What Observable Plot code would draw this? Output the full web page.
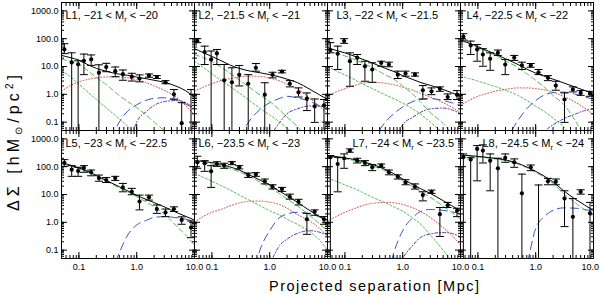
<!DOCTYPE html>
<html><head><meta charset="utf-8">
<script src="https://cdn.jsdelivr.net/npm/d3@7"></script>
<script src="https://cdn.jsdelivr.net/npm/@observablehq/plot@0.6"></script>
<style>
body{margin:0;background:#fff;}
#chart{width:600px;height:299px;}
</style></head><body><div id="chart"></div>
<script>
// ---- data ----
const PANEL_TITLES = ["L1, −21 < M_r < −20", "L2, −21.5 < M_r < −21", "L3, −22 < M_r < −21.5", "L4, −22.5 < M_r < −22",
  "L5, −23 < M_r < −22.5", "L6, −23.5 < M_r < −23", "L7, −24 < M_r < −23.5", "L8, −24.5 < M_r < −24"];
const X_TICKS = [0.1, 1, 10];
const Y_TICKS = [0.1, 1, 10, 100, 1000];
const X_LABEL = "Projected separation [Mpc]";

// projected radii of the measurements (Mpc)
const R = [0.056, 0.075, 0.097, 0.122, 0.163, 0.222, 0.297, 0.425, 0.577, 0.822, 1.12, 1.63, 2.23, 3.15, 4.40, 6.0, 8.7];
// measured ΔΣ, lower and upper error ends (0 = below the axis)
const VAL = [
  [41, 14, 12, 16, 18, 6, 9.5, 6.8, 5.3, 4.3, 3.7, 4.7, 4.2, 2.7, 1.0, 0.092, null],
  [82, 33, 18, 29.5, 3.2, 2.7, 5.0, 2.4, 9.0, 0.97, 5.0, 6.6, 2.4, 1.18, 0.7, 0.37, 0.4],
  [39, 28.7, 82, 15.5, 20.6, 10.2, 7.8, 13.6, 11.8, 5.1, 5.6, 5.1, 1.4, 1.28, 1.57, 0.8, 0.97],
  [118, 57, 41, 27, 19, 31, 11.8, 20.6, 10.9, 10.9, 6.2, 3.9, 2.06, 0.65, 1.48, 1.12, 1.06],
  [136, 78, 70, 90, 63, 39, 33, 39, 18, 12.5, 5.6, 7.9, 3.0, 2.26, 3.0, 1.22, 0.65],
  [144, 133, 68, 125, 109, 136, 95, 50, 53, 30, 19, 15.7, 8.3, 5.4, 1.29, 2.4, 1.29],
  [218, 125, 201, 378, 165, 136, 95, 109, 63, 43.6, 27, 19, 9.5, 12.5, 1.96, 4.1, 2.6],
  [218, 180, 435, 378, 165, 87.5, 206, 144, 11, 95, null, 30, 29, 7.2, 1.57, 12.5, 2.1]
];
const LO = [
  [29, 0, 0, 5.1, 11, 0, 6.5, 4.3, 3.2, 3.0, 2.8, 4.1, 3.7, 2.4, 0.67, 0, 0],
  [72, 11.8, 0, 11.8, 0, 0, 2.0, 0, 6.8, 0, 3.9, 5.9, 1.85, 0.8, 0.26, 0.098, 0],
  [31, 7.8, 68, 1.95, 11.8, 2.95, 2.7, 10.2, 9.8, 3.7, 4.5, 4.5, 0.68, 0.97, 1.28, 0.65, 0.65],
  [89, 27, 15.5, 10.2, 7.3, 25, 5.1, 16.5, 7.8, 9.4, 5.1, 3.1, 1.4, 0.098, 1.22, 0.92, 0.85],
  [103, 45, 45, 63, 47, 30, 27, 32, 12.5, 9.8, 2.8, 6.3, 2.1, 1.6, 2.45, 0.85, 0.28],
  [87.5, 68, 18, 103, 87.5, 118, 83, 41, 45, 24, 15.7, 12.9, 6.8, 4.2, 0.37, 1.8, 0.85],
  [0, 12.5, 87.5, 331, 136, 109, 72, 95, 51, 36, 22.4, 15.7, 5.9, 11, 0.31, 3.4, 1.6],
  [0, 0, 31, 136, 13.6, 0, 144, 95, 0, 72, 0, 22.4, 22.4, 0.7, 0, 10.3, 0]
];
const HI = [
  [66, 31, 16, 28, 26, 11.5, 13, 9.6, 7.5, 5.7, 5.0, 5.4, 4.7, 3.1, 1.48, 0.5, 1.48],
  [100, 54, 36, 41, 11.8, 9.0, 10.9, 5.1, 12.8, 2.6, 6.2, 7.3, 3.1, 1.7, 1.12, 0.68, 0.65],
  [72, 54, 100, 31, 27, 15.5, 13.6, 15.5, 14.3, 6.8, 6.8, 5.9, 2.06, 1.7, 1.85, 1.03, 1.36],
  [151, 82, 62, 43.6, 31, 39, 17.9, 25, 14.3, 12.8, 7.8, 4.7, 2.95, 1.12, 1.85, 1.36, 1.28],
  [179, 109, 95, 109, 76, 50, 41, 45, 25, 16.6, 9.5, 9.5, 4.2, 3.0, 3.6, 1.57, 1.12],
  [237, 165, 109, 151, 133, 151, 109, 59, 61, 36, 22.4, 18, 10.3, 6.7, 2.1, 2.8, 1.6],
  [250, 218, 287, 435, 201, 165, 118, 125, 76, 51, 34, 24, 12.5, 14.4, 3.4, 5.2, 3.2],
  [287, 210, 573, 607, 287, 201, 287, 190, 54, 115, 22, 38, 36, 13.6, 7.2, 14.8, 5.2]
];

// model curves, sampled at these radii
const XM = [0.05, 0.07, 0.1, 0.15, 0.2, 0.3, 0.5, 0.7, 1, 1.5, 2, 3, 5, 7, 10];
const TOTAL = [
  [25, 21, 17, 11, 8.6, 6.7, 5.3, 4.8, 4.15, 3.6, 3.2, 2.7, 1.9, 1.35, 0.78],
  [44, 32, 23, 15.5, 11.6, 8.5, 6.6, 5.9, 5.1, 4.2, 3.5, 2.65, 1.5, 1.0, 0.66],
  [47, 38, 31, 23, 18.4, 13.3, 8.6, 6.6, 4.7, 3.4, 2.7, 2.1, 1.5, 1.15, 0.82],
  [90, 70, 52, 36, 28, 19, 11.7, 8.1, 5.8, 4.3, 3.5, 2.6, 1.77, 1.38, 1.1],
  [140, 115, 90, 65, 48, 32, 19, 13.5, 9.3, 6.5, 5.1, 3.6, 2.2, 1.65, 1.2],
  [165, 155, 140, 120, 100, 75, 45, 32, 22, 13, 9, 5.3, 2.6, 1.7, 1.2],
  [250, 230, 205, 180, 155, 120, 80, 56, 36, 23, 16.5, 11, 6, 4, 2.5],
  [260, 250, 235, 215, 200, 175, 130, 98, 68, 42, 28, 14, 6.5, 4.2, 2.6]
];
const CENTRAL = [
  [18, 15.5, 12, 6.5, 4, 2.2, 0.9, 0.55, 0.33, 0.17, 0.1, 0.05, 0.02, null, null],
  [27, 21, 15, 9, 6, 3.2, 1.5, 0.9, 0.55, 0.27, 0.15, 0.07, 0.02, null, null],
  [36, 30, 24, 17.5, 13.5, 9, 5, 3.5, 2.0, 1.0, 0.55, 0.22, 0.09, 0.04, 0.02],
  [85, 66, 48, 33, 25, 16, 9, 5.5, 3.2, 1.6, 0.9, 0.45, 0.1, 0.03, null],
  [130, 108, 85, 62, 46, 30, 17.5, 12.5, 8.3, 5.2, 3.6, 2.0, 0.7, 0.35, 0.15],
  [150, 140, 125, 105, 88, 65, 39, 27, 18, 10.5, 7, 3.9, 1.7, 0.95, 0.48],
  [230, 210, 190, 165, 140, 108, 70, 48, 30, 19, 13, 8, 3.8, 2.3, 1.3],
  [250, 240, 225, 205, 190, 165, 122, 92, 63, 38, 25, 11, 4.8, 2.8, 1.6]
];
const STELLAR = [
  [7, 4.4, 2.3, 1.1, 0.66, 0.32, 0.13, 0.07, 0.036, null, null, null, null, null, null],
  [15.5, 9.5, 5.5, 3.0, 2.0, 1.1, 0.5, 0.3, 0.18, 0.1, 0.06, 0.03, null, null, null],
  [10, 7, 5, 3.3, 2.4, 1.6, 0.95, 0.7, 0.48, 0.3, 0.2, 0.1, 0.04, null, null],
  [4.5, 3.7, 3.0, 2.3, 1.9, 1.4, 0.9, 0.6, 0.38, 0.22, 0.14, 0.07, 0.02, null, null],
  null,
  [58, 42, 30, 20, 15, 9.5, 5.5, 3.8, 2.6, 1.8, 1.3, 0.85, 0.45, 0.25, 0.1],
  [38, 30, 22, 16, 12, 8, 5, 3.6, 2.5, 1.4, 0.9, 0.35, 0.1, 0.04, null],
  null
];
const SATELLITE = [
  [1.3, 2.0, 2.8, 3.5, 3.9, 4.2, 4.2, 3.9, 3.3, 2.6, 2.0, 1.4, 0.75, 0.4, 0.18],
  [1.3, 1.8, 2.4, 3.2, 3.6, 4.2, 4.5, 4.4, 3.8, 3.0, 2.3, 1.6, 0.7, 0.4, 0.2],
  [0.85, 1.2, 1.6, 2.1, 2.5, 2.7, 2.5, 2.2, 1.8, 1.4, 1.1, 0.8, 0.5, 0.35, 0.22],
  [0.4, 0.6, 0.85, 1.1, 1.3, 1.5, 1.7, 1.7, 1.6, 1.4, 1.2, 0.85, 0.5, 0.32, 0.19],
  null,
  [1.0, 1.6, 2.3, 3.0, 3.8, 5.0, 5.8, 5.8, 5.3, 4.3, 3.2, 1.9, 1.1, 0.65, 0.32],
  [1.1, 1.6, 2.3, 3.2, 4.0, 4.8, 5.2, 5.0, 4.4, 3.3, 2.5, 1.5, 0.65, 0.35, 0.15],
  null
];
const TWOHALO = [
  [null, null, null, null, null, 0.01, 0.1, 0.25, 0.42, 0.62, 0.72, 0.75, 0.6, 0.45, 0.3],
  [null, null, null, null, null, 0.03, 0.15, 0.3, 0.5, 0.72, 0.85, 0.75, 0.55, 0.4, 0.28],
  [null, null, null, null, null, 0.02, 0.1, 0.2, 0.35, 0.55, 0.65, 0.7, 0.6, 0.5, 0.4],
  [null, null, null, null, null, 0.02, 0.12, 0.3, 0.6, 1.0, 1.15, 1.2, 1.0, 0.82, 0.65],
  [null, null, null, null, null, 0.005, 0.08, 0.35, 0.8, 1.2, 1.5, 1.6, 1.45, 1.3, 1.05],
  [null, null, null, null, null, null, 0.01, 0.12, 0.5, 1.5, 2.0, 2.3, 2.0, 1.6, 1.1],
  [null, null, null, null, null, null, 0.005, 0.08, 0.5, 1.5, 2.4, 2.9, 2.7, 2.4, 2.0],
  [null, null, null, null, null, null, 0.005, 0.03, 0.6, 1.8, 2.7, 3.3, 3.2, 2.9, 2.5]
];
const TWOHALO_SAT = [
  [null, null, null, null, null, null, null, 0.01, 0.1, 0.25, 0.4, 0.55, 0.6, 0.5, 0.3],
  [null, null, null, null, null, null, null, 0.01, 0.03, 0.1, 0.2, 0.3, 0.38, 0.38, 0.33],
  [null, null, null, null, null, null, null, 0.01, 0.08, 0.15, 0.22, 0.3, 0.32, 0.28, 0.2],
  [null, null, null, null, null, null, null, null, 0.01, 0.05, 0.08, 0.13, 0.2, 0.26, 0.3],
  null,
  [null, null, null, null, null, null, null, null, 0.03, 0.15, 0.25, 0.4, 0.5, 0.45, 0.35],
  [null, null, null, null, null, null, null, 0.01, 0.05, 0.15, 0.28, 0.38, 0.43, 0.4, 0.3],
  null
];

// ---- layout / style constants ----
const LABEL_DX = [4, 4, 9, 6, 4, 4, 25, 22];
const FLOOR = 1e-3; // error bar ends that fall below the axis
const COMPONENTS = [
  {arr: STELLAR, stroke: "#4fc04f", dash: "2,2"},
  {arr: SATELLITE, stroke: "#d04848", dash: "1,2"},
  {arr: TWOHALO, stroke: "#3355cc", dash: "8,5"},
  {arr: TWOHALO_SAT, stroke: "#5533aa", dash: "3,2,1,2"},
  {arr: CENTRAL, stroke: "#4fc04f", dash: "5,3"},
  {arr: TOTAL, stroke: "#000000", dash: null}
];

// ---- tidy tables ----
const points = [];
VAL.forEach((vals, p) => R.forEach((r, i) => {
  points.push({p, col: p % 4, row: Math.floor(p / 4), r,
    val: vals[i], lo: LO[p][i] > 0 ? LO[p][i] : FLOOR, hi: HI[p][i], loShown: LO[p][i] > 0});
}));
function curveRows(arr) {
  const out = [];
  arr.forEach((ys, p) => {
    if (!ys) return;
    ys.forEach((y, i) => { if (y != null) out.push({p, col: p % 4, row: Math.floor(p / 4), x: XM[i], y}); });
  });
  return out;
}
const titles = PANEL_TITLES.map((t, p) => ({p, col: p % 4, row: Math.floor(p / 4), t}));

const capSymbol = {draw(ctx, size) { const w = Math.sqrt(size / Math.PI); ctx.moveTo(-w, 0); ctx.lineTo(w, 0); }};
const fmt = d3.format(".1f");
const blank = () => "";

const marks = [];
for (const c of COMPONENTS) {
  marks.push(Plot.line(curveRows(c.arr), {x: "x", y: "y", z: "p", fx: "col", fy: "row",
    stroke: c.stroke, strokeWidth: 1, strokeDasharray: c.dash, curve: "monotone-x", clip: true}));
}
marks.push(
  Plot.ruleX(points.filter(d => d.hi != null), {x: "r", y1: "lo", y2: "hi", fx: "col", fy: "row", stroke: "black", strokeWidth: 1, clip: true}),
  Plot.dot(points.filter(d => d.hi != null), {x: "r", y: "hi", fx: "col", fy: "row", symbol: capSymbol, r: 4, stroke: "black", fill: "none", strokeWidth: 1, clip: true}),
  Plot.dot(points.filter(d => d.loShown), {x: "r", y: "lo", fx: "col", fy: "row", symbol: capSymbol, r: 4, stroke: "black", fill: "none", strokeWidth: 1, clip: true}),
  Plot.dot(points.filter(d => d.val != null), {x: "r", y: "val", fx: "col", fy: "row", r: 2.1, fill: "black", stroke: "none", clip: true})
);
// axes: inward ticks on all four sides of each panel
for (const anchor of ["bottom", "top"]) {
  marks.push(Plot.axisX({anchor, ticks: 40, tickSize: -3, tickFormat: blank, facetAnchor: null, label: null}));
  marks.push(Plot.axisX({anchor, ticks: X_TICKS, tickSize: -6, tickFormat: blank, facetAnchor: null, label: null}));
}
for (const anchor of ["left", "right"]) {
  marks.push(Plot.axisY({anchor, ticks: 60, tickSize: -3, tickFormat: blank, facetAnchor: null, label: null}));
  marks.push(Plot.axisY({anchor, ticks: Y_TICKS, tickSize: -6, tickFormat: blank, facetAnchor: null, label: null}));
}
marks.push(
  Plot.axisX({anchor: "bottom", ticks: X_TICKS, tickSize: 0, tickPadding: 5, tickFormat: fmt, facetAnchor: "bottom", label: null, fontSize: 9}),
  Plot.axisY({anchor: "left", ticks: Y_TICKS, tickSize: 0, tickPadding: 3, tickFormat: fmt, facetAnchor: "left", label: null, fontSize: 9}),
  Plot.frame({stroke: "black", strokeWidth: 1})
);
titles.forEach((d, p) => {
  marks.push(Plot.text([d], {fx: "col", fy: "row", text: "t", frameAnchor: "top-left", dx: LABEL_DX[p], dy: 13,
    textAnchor: "start", lineAnchor: "middle", fontSize: 11, ariaLabel: "panel-label"}));
});

const svg = Plot.plot({
  width: 600, height: 299,
  marginLeft: 61, marginRight: 7, marginTop: 2, marginBottom: 41,
  style: {fontFamily: "'Liberation Sans', Arial, sans-serif", fontSize: "9px", color: "black", background: "white"},
  x: {type: "log", domain: [0.05, 10]},
  y: {type: "log", domain: [0.05, 2000]},
  fx: {domain: [0, 1, 2, 3], padding: 0, axis: null},
  fy: {domain: [0, 1], padding: 0, axis: null},
  marks
});

const s = d3.select(svg);
// subscript r in panel titles
s.selectAll("text").each(function () {
  const t = this.textContent;
  if (!t.includes("M_r")) return;
  const [a, b] = t.split("M_r");
  const sel = d3.select(this);
  sel.text(null);
  sel.append("tspan").text(a + "M");
  sel.append("tspan").attr("dy", 2.5).attr("font-size", 7.5).text("r");
  sel.append("tspan").attr("dy", -2.5).text(b);
});
// axis titles
s.append("text").attr("x", 374).attr("y", 291).attr("text-anchor", "middle")
  .attr("font-size", 14.5).attr("fill", "black").attr("textLength", 210).attr("lengthAdjust", "spacing")
  .text(X_LABEL);
const yl = s.append("text").attr("transform", "translate(19,143) rotate(-90)").attr("text-anchor", "middle")
  .attr("font-size", 16).attr("fill", "black").attr("textLength", 136).attr("lengthAdjust", "spacing");
yl.append("tspan").text("ΔΣ [hM");
yl.append("tspan").attr("font-size", 10).attr("dy", 3).text("⊙");
yl.append("tspan").attr("dy", -3).text("/pc");
yl.append("tspan").attr("font-size", 10).attr("dy", -6).text("2");
yl.append("tspan").attr("dy", 6).text("]");

document.getElementById("chart").appendChild(svg);

// keep tick labels inside the picture
const box = svg.getBoundingClientRect();
s.selectAll("text").each(function () {
  const b = this.getBoundingClientRect();
  const over = b.right - (box.left + 599);
  if (over > 0 && b.width > 0) {
    const dx = +(this.getAttribute("dx") || 0);
    this.setAttribute("dx", dx - over);
  }
});
</script></body></html>
